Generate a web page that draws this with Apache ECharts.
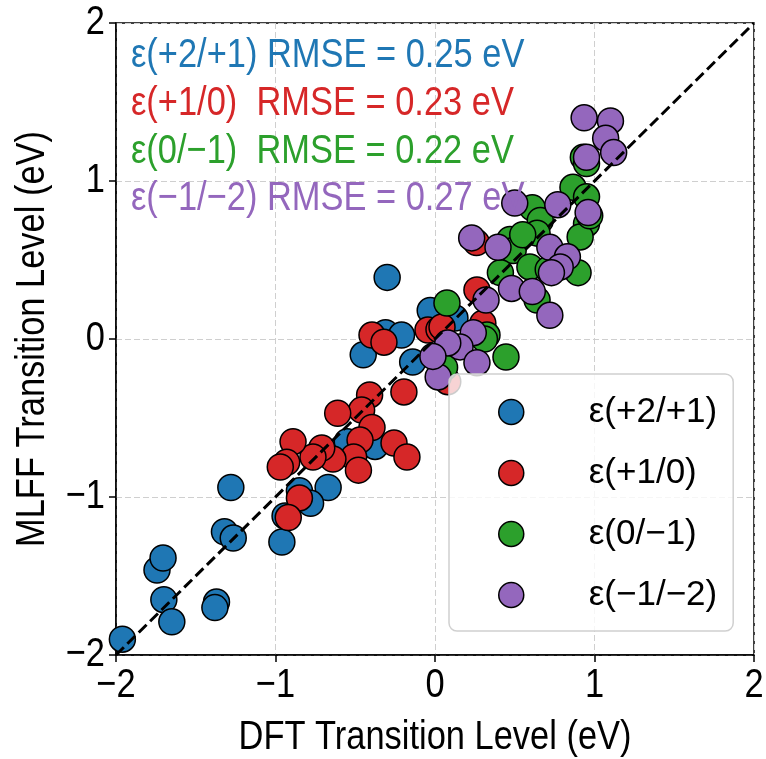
<!DOCTYPE html>
<html>
<head>
<meta charset="utf-8">
<script src="https://cdn.jsdelivr.net/npm/echarts@6/dist/echarts.min.js"></script>
<style>
  html, body { margin: 0; padding: 0; background: #fff; }
  #chart { width: 766px; height: 759px; }
</style>
</head>
<body>
<div id="chart"></div>
<script>
// DFT vs MLFF charge-transition levels (eV), one [dft, mlff] pair per defect
const seriesNames = ['ε(+2/+1)', 'ε(+1/0)', 'ε(0/−1)', 'ε(−1/−2)'];
const rmseValues = [0.25, 0.23, 0.22, 0.27];
const axisTicks = [-2, -1, 0, 1, 2];
const xTitle = 'DFT Transition Level (eV)';
const yTitle = 'MLFF Transition Level (eV)';

const level21 = [
  [-1.96, -1.90], [-1.743, -1.462], [-1.705, -1.386], [-1.70, -1.65], [-1.65, -1.79],
  [-1.28, -0.94], [-1.32, -1.22], [-1.265, -1.26], [-1.37, -1.665], [-1.38, -1.70],
  [-0.96, -1.285], [-0.94, -1.12], [-0.67, -0.94], [-0.85, -0.96], [-0.78, -1.04],
  [-0.45, -0.10], [-0.31, 0.04], [-0.21, 0.025], [-0.14, -0.146], [-0.03, 0.18],
  [-0.376, -0.68], [-0.55, -0.65], [-0.30, 0.39], [0.125, 0.133]
];
const level10 = [
  [-0.395, 0.025], [-0.32, -0.02], [-0.044, 0.057], [0.025, 0.06], [-0.41, -0.354],
  [-0.46, -0.45], [-0.61, -0.47], [-0.195, -0.335], [-0.395, -0.56], [-0.47, -0.64],
  [-0.257, -0.658], [-0.176, -0.747], [-0.51, -0.747], [-0.48, -0.83], [-0.64, -0.76],
  [-0.71, -0.69], [-0.765, -0.747], [-0.89, -0.65], [-0.93, -0.78], [-0.97, -0.81],
  [-0.85, -1.006], [-0.92, -1.13], [0.263, 0.31], [0.044, 0.076], [0.30, 0.10],
  [0.08, -0.27], [0.26, 0.61]
];
const level0m1 = [
  [0.075, 0.228], [0.326, 0.025], [0.445, -0.114], [0.06, -0.18], [0.93, 1.15],
  [0.95, 1.11], [0.865, 0.96], [0.95, 0.90], [0.95, 0.73], [0.91, 0.646],
  [0.897, 0.42], [0.61, 0.83], [0.66, 0.75], [0.64, 0.67], [0.47, 0.63],
  [0.49, 0.56], [0.595, 0.456], [0.41, 0.42], [0.64, 0.247], [0.71, 0.44],
  [0.97, 0.78], [0.55, 0.66], [0.31, 0.0]
];
const levelm1m2 = [
  [0.935, 1.40], [1.10, 1.38], [1.07, 1.27], [0.95, 1.15], [1.12, 1.18],
  [0.50, 0.86], [0.77, 0.85], [0.96, 0.80], [0.23, 0.64], [0.395, 0.58],
  [0.72, 0.58], [0.83, 0.52], [0.785, 0.456], [0.73, 0.42], [0.48, 0.32],
  [0.61, 0.30], [0.72, 0.15], [0.32, 0.247], [0.24, 0.04], [0.157, -0.05],
  [0.08, -0.025], [0.263, -0.15], [0.02, -0.24], [-0.013, -0.11]
];
const parityLine = [[-2, -2], [2, 2]];

const colors = ['#1f77b4', '#d62728', '#2ca02c', '#9467bd'];
const datasets = [level21, level10, level0m1, levelm1m2];
const FONT = '"Liberation Sans", Arial, sans-serif';
// condensed look for the large labels
const NARROW = 0.84;
const BIG = '41px ' + FONT;

const chart = echarts.init(document.getElementById('chart'), null, { renderer: 'canvas' });

const scatterSeries = datasets.map((d, i) => ({
  name: seriesNames[i],
  type: 'scatter',
  data: d,
  symbol: 'circle',
  symbolSize: 26,
  z: 2,
  itemStyle: { color: colors[i], borderColor: '#000', borderWidth: 1.5, opacity: 1 },
  emphasis: { disabled: true }
}));

const axisCommon = {
  type: 'value',
  min: -2,
  max: 2,
  interval: 1,
  axisLine: { show: true, onZero: false, lineStyle: { color: '#000', width: 1.5 } },
  axisTick: { show: true, length: 7, lineStyle: { color: '#000', width: 1.5 } },
  axisLabel: { show: false },
  splitLine: { show: true, lineStyle: { color: '#cfcfcf', width: 1, type: [6, 3] } }
};

chart.setOption({
  animation: false,
  backgroundColor: '#fff',
  grid: {
    left: 116, top: 23, right: 12, bottom: 104,
    containLabel: false,
    outerBoundsMode: 'none',
    show: true, borderColor: '#000', borderWidth: 1.5
  },
  xAxis: axisCommon,
  yAxis: axisCommon,
  legend: {
    orient: 'vertical',
    left: 449,
    top: 374,
    data: seriesNames,
    icon: 'circle',
    itemWidth: 25,
    itemHeight: 25,
    itemGap: 21,
    padding: [18, 16, 16, 49],
    backgroundColor: 'rgba(255,255,255,0.8)',
    borderColor: '#d0d0d0',
    borderWidth: 1.5,
    borderRadius: 8,
    z: 6,
    itemStyle: { borderColor: '#000', borderWidth: 1.5 },
    textStyle: { fontFamily: FONT, fontSize: 35, color: '#000', lineHeight: 40, padding: [0, 0, 0, 60] }
  },
  series: scatterSeries.concat([{
    type: 'line',
    data: parityLine,
    symbol: 'none',
    z: 3,
    silent: true,
    lineStyle: { color: '#000', width: 3, type: [11, 5] }
  }])
});

// Text layer: tick labels and titles placed through the axis scales
const fmt = v => (v < 0 ? '−' + Math.abs(v) : String(v));
const texts = [];
axisTicks.forEach(v => {
  const px = chart.convertToPixel({ gridIndex: 0 }, [v, -2]);
  texts.push({
    type: 'text', x: px[0], y: px[1] + 31, scaleX: NARROW, silent: true,
    style: { text: fmt(v), x: 0, y: 0, align: 'center', verticalAlign: 'middle', font: BIG, fill: '#000' }
  });
  const py = chart.convertToPixel({ gridIndex: 0 }, [-2, v]);
  texts.push({
    type: 'text', x: py[0] - 11, y: py[1], scaleX: NARROW, silent: true,
    style: { text: fmt(v), x: 0, y: 0, align: 'right', verticalAlign: 'middle', font: BIG, fill: '#000' }
  });
});
const mid = chart.convertToPixel({ gridIndex: 0 }, [0, 0]);
texts.push({
  type: 'text', x: mid[0], y: 738, scaleX: NARROW, silent: true,
  style: { text: xTitle, x: 0, y: 0, align: 'center', verticalAlign: 'middle', font: BIG, fill: '#000' }
});
texts.push({
  type: 'text', x: 33, y: mid[1], rotation: Math.PI / 2, scaleX: NARROW, silent: true,
  style: { text: yTitle, x: 0, y: 0, align: 'center', verticalAlign: 'middle', font: BIG, fill: '#000' }
});
// RMSE annotations, one line per transition
seriesNames.forEach((n, i) => {
  const gap = (i === 1 || i === 2) ? '  ' : ' ';
  texts.push({
    type: 'text', x: 131, y: 56 + i * 47.7, scaleX: NARROW, z: 5, silent: true,
    style: {
      text: n + gap + 'RMSE = ' + rmseValues[i].toFixed(2) + ' eV',
      x: 0, y: 0, align: 'left', verticalAlign: 'middle', font: BIG, fill: colors[i]
    }
  });
});
chart.setOption({ graphic: texts });
</script>
</body>
</html>
